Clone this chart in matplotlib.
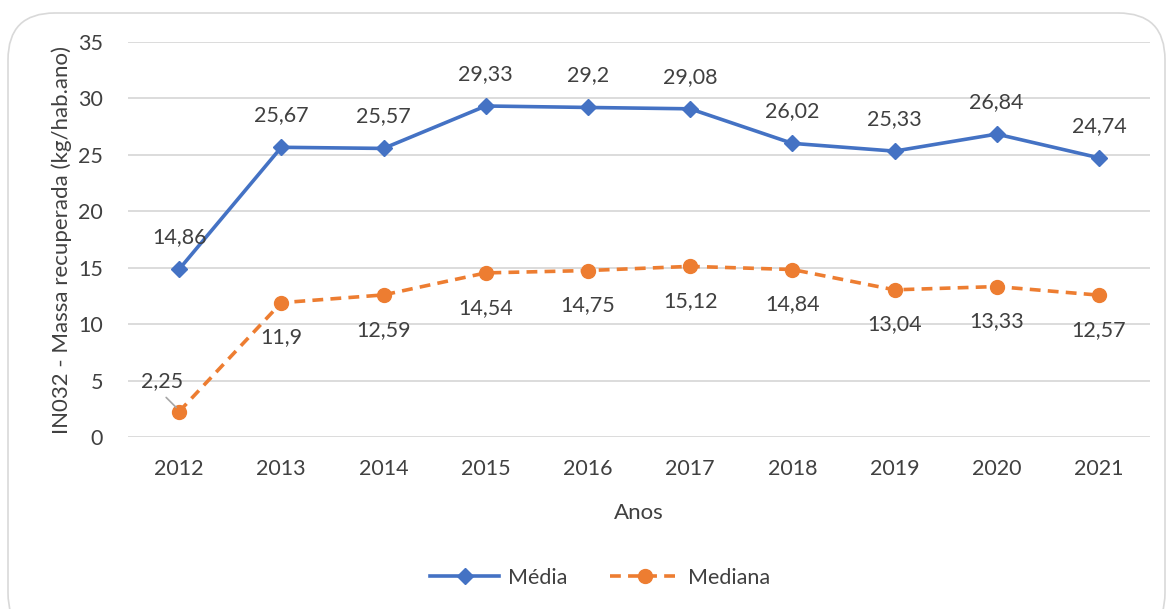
import matplotlib
matplotlib.use("Agg")
import matplotlib.pyplot as plt
from matplotlib.patches import FancyBboxPatch

plt.rcParams['font.family'] = ['Lato', 'DejaVu Sans']

anos = ['2012', '2013', '2014', '2015', '2016', '2017', '2018', '2019', '2020', '2021']
media = [14.86, 25.67, 25.57, 29.33, 29.2, 29.08, 26.02, 25.33, 26.84, 24.74]
mediana = [2.25, 11.9, 12.59, 14.54, 14.75, 15.12, 14.84, 13.04, 13.33, 12.57]
yticks = [0, 5, 10, 15, 20, 25, 30, 35]

BLUE = '#4472C4'
ORANGE = '#ED7D31'
TXT = '#404040'
GRID = '#D9D9D9'
FS = 15.5

def fmt(v):
    s = ('%.2f' % v).rstrip('0').rstrip('.')
    return s.replace('.', ',')

fig = plt.figure(figsize=(11.69, 6.09), dpi=100)
border = FancyBboxPatch((8/1169, -0.05), 1157/1169, 1 - 13/609 + 0.05,
                        boxstyle="round,pad=0,rounding_size=0.04",
                        transform=fig.transFigure, facecolor='none',
                        edgecolor=GRID, linewidth=1.2, zorder=-1,
                        mutation_aspect=1169/609)
fig.patches.append(border)

ax = fig.add_axes([128/1169, 1 - 437/609, (1150 - 128)/1169, (437 - 42)/609])
ax.set_facecolor('none')
x = list(range(len(anos)))
ax.plot(x, media, color=BLUE, lw=2.6, marker='D', ms=8, label='Média', zorder=3)
ax.plot(x, mediana, color=ORANGE, lw=2.6, ls=(0, (3, 2)), marker='o', ms=10,
        label='Mediana', zorder=3)

ax.set_xlim(-0.5, len(anos) - 0.5)
ax.set_ylim(0, 35)
ax.set_yticks(yticks)
ax.set_xticks(x)
ax.set_xticklabels(anos)
ax.grid(axis='y', color=GRID, lw=1.3)
ax.set_axisbelow(True)
for s in ax.spines.values():
    s.set_visible(False)
ax.tick_params(axis='both', length=0, labelsize=FS, colors=TXT)
ax.tick_params(axis='y', pad=18)
ax.tick_params(axis='x', pad=16)

for i, v in enumerate(media):
    ax.annotate(fmt(v), (i, v), xytext=(0, 23), textcoords='offset points',
                ha='center', va='center', fontsize=FS, color=TXT)
for i, v in enumerate(mediana):
    if i == 0:
        ax.annotate(fmt(v), (i, v), xytext=(-12, 22), textcoords='offset points',
                    ha='center', va='center', fontsize=FS, color=TXT)
        ax.annotate('', (i - 0.01, v + 0.2), xytext=(-10, 10), textcoords='offset points',
                    arrowprops=dict(arrowstyle='-', color='#A6A6A6', lw=1.2))
    else:
        ax.annotate(fmt(v), (i, v), xytext=(0, -25), textcoords='offset points',
                    ha='center', va='center', fontsize=FS, color=TXT)

ax.set_xlabel('Anos', fontsize=16, color=TXT, labelpad=17)
ax.set_ylabel('IN032 - Massa recuperada (kg/hab.ano)', fontsize=16, color=TXT, labelpad=4)

leg = fig.legend(loc='center', bbox_to_anchor=(600/1169, 1 - 578/609), ncol=2,
                 frameon=False, fontsize=FS, handlelength=3.2, columnspacing=2.0,
                 handletextpad=0.4)
for t in leg.get_texts():
    t.set_color(TXT)

fig.savefig('out.png', dpi=100)
